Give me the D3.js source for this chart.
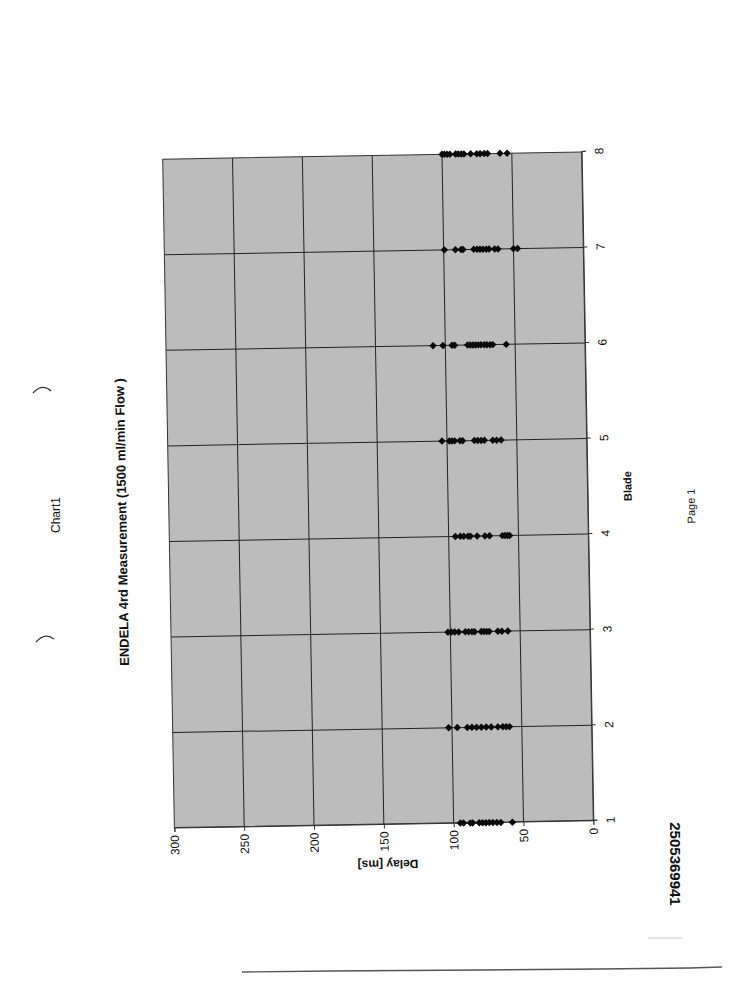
<!DOCTYPE html>
<html>
<head>
<meta charset="utf-8">
<script src="https://cdn.jsdelivr.net/npm/d3@7"></script>
<style>
  html, body { margin: 0; padding: 0; background: #fff; }
  svg { display: block; font-family: "Liberation Sans", Arial, sans-serif; }
</style>
</head>
<body>
<svg id="page" width="754" height="1000"></svg>
<script>
// ---- data ----
const blades = [1, 2, 3, 4, 5, 6, 7, 8];
const delayTicks = [0, 50, 100, 150, 200, 250, 300];
const blade1Delays = [95.2, 92.9, 88.1, 86.4, 81.7, 79.3, 76.9, 74.5, 71.9, 69.0, 66.2, 57.9];
const blade2Delays = [102.4, 96.2, 89.0, 85.7, 82.4, 79.0, 75.5, 71.9, 67.1, 63.6, 61.2, 58.8];
const blade3Delays = [101.7, 99.3, 96.9, 94.0, 89.3, 86.9, 84.5, 82.6, 77.9, 76.0, 74.0, 72.1, 66.0, 63.1, 58.8];
const blade4Delays = [95.2, 91.6, 89.2, 86.1, 84.4, 79.6, 74.0, 70.7, 61.5, 59.6, 57.9, 56.3];
const blade5Delays = [103.6, 98.3, 96.4, 94.5, 90.7, 88.8, 80.4, 78.0, 75.6, 73.2, 67.2, 64.4, 61.2];
const blade6Delays = [108.8, 101.7, 95.2, 93.3, 84.0, 82.1, 80.2, 78.3, 76.4, 74.5, 72.1, 70.2, 67.9, 66.0, 56.4];
const blade7Delays = [99.5, 91.6, 87.5, 86.1, 78.4, 76.0, 74.0, 71.9, 69.5, 67.5, 63.5, 61.1, 50.0, 47.1];
const blade8Delays = [100.0, 98.3, 96.4, 94.4, 90.3, 88.4, 86.2, 84.3, 79.5, 75.1, 72.7, 69.8, 67.4, 58.5, 53.4];
const titleText = "ENDELA 4rd Measurement (1500 ml/min Flow )";
const xTitle = "Blade";
const yTitle = "Delay [ms]";

const allDelays = [blade1Delays, blade2Delays, blade3Delays, blade4Delays,
                   blade5Delays, blade6Delays, blade7Delays, blade8Delays];
const points = [];
blades.forEach((b, i) => allDelays[i].forEach(v => points.push({ blade: b, delay: v })));

// ---- layout ----
const W = 669, H = 419;
const svg = d3.select("#page");

// page furniture
svg.append("text").attr("transform", "translate(57,515) rotate(-90)")
  .attr("text-anchor", "middle").attr("dominant-baseline", "middle")
  .attr("font-size", 12).attr("fill", "#111").text("Chart1");
svg.append("text").attr("transform", "translate(692,506) rotate(-91)")
  .attr("text-anchor", "middle").attr("dominant-baseline", "middle")
  .attr("font-size", 11).attr("fill", "#111").text("Page 1");
svg.append("text").attr("transform", "translate(674,864) rotate(90)")
  .attr("text-anchor", "middle").attr("dominant-baseline", "middle")
  .attr("font-size", 15).attr("font-weight", "bold").attr("fill", "#111").text("2505369941");
svg.append("path").attr("d", "M33,393 Q42,383 51,391").attr("fill", "none").attr("stroke", "#333").attr("stroke-width", 1.2);
svg.append("path").attr("d", "M36,642 Q45,632 54,639").attr("fill", "none").attr("stroke", "#333").attr("stroke-width", 1.2);
svg.append("path").attr("d", "M242,972 L330,971 L480,970 L600,969 L690,968 L722,967")
  .attr("fill", "none").attr("stroke", "#555").attr("stroke-width", 1.3);
svg.append("path").attr("d", "M648,938 L682,938").attr("fill", "none").attr("stroke", "#bbb").attr("stroke-width", 0.8);

// chart, rotated on the page
const g = svg.append("g").attr("transform", "translate(378,490) rotate(-91)")
  .append("g").attr("transform", `translate(${-W / 2},${-H / 2})`);

const x = d3.scaleLinear().domain([1, 8]).range([0, W]);
const y = d3.scaleLinear().domain([0, 300]).range([H, 0]);

g.append("rect").attr("width", W).attr("height", H).attr("fill", "#bcbcbc");

// gridlines
g.append("g").selectAll("line").data(delayTicks.filter(d => d > 0 && d < 300)).join("line")
  .attr("x1", 0).attr("x2", W).attr("y1", d => y(d)).attr("y2", d => y(d))
  .attr("stroke", "#222").attr("stroke-width", 1);
g.append("g").selectAll("line").data(blades.filter(d => d > 1 && d < 8)).join("line")
  .attr("y1", 0).attr("y2", H).attr("x1", d => x(d)).attr("x2", d => x(d))
  .attr("stroke", "#222").attr("stroke-width", 1);

g.append("rect").attr("width", W).attr("height", H).attr("fill", "none")
  .attr("stroke", "#333").attr("stroke-width", 1);

// axes
const xAxis = g.append("g").attr("transform", `translate(0,${H})`)
  .call(d3.axisBottom(x).tickValues(blades).tickFormat(d3.format("d")).tickSize(4).tickPadding(9));
const yAxis = g.append("g")
  .call(d3.axisLeft(y).tickValues(delayTicks).tickSize(4).tickPadding(3));
[xAxis, yAxis].forEach(a => {
  a.attr("font-size", 12);
  a.select(".domain").attr("stroke", "#333");
  a.selectAll(".tick line").attr("stroke", "#333");
  a.selectAll("text").attr("font-size", 12).attr("fill", "#111")
    .attr("font-family", "'Liberation Sans', Arial, sans-serif");
});

// markers
g.append("g").selectAll("path").data(points).join("path")
  .attr("transform", d => `translate(${x(d.blade)},${y(d.delay)}) rotate(45)`)
  .attr("d", d3.symbol(d3.symbolSquare, 28))
  .attr("fill", "#0a0a0a");

// titles
g.append("text").attr("x", 307).attr("y", -46)
  .attr("text-anchor", "middle").attr("dominant-baseline", "middle")
  .attr("font-size", 13).attr("font-weight", "bold").attr("fill", "#111").text(titleText);
g.append("text").attr("x", 334).attr("y", H + 41)
  .attr("text-anchor", "middle").attr("dominant-baseline", "middle")
  .attr("font-size", 11).attr("font-weight", "bold").attr("fill", "#111").text(xTitle);
g.append("text").attr("transform", `translate(-39,213) rotate(-90)`)
  .attr("text-anchor", "middle").attr("dominant-baseline", "middle")
  .attr("font-size", 12).attr("font-weight", "bold").attr("fill", "#111").text(yTitle);
</script>
</body>
</html>
